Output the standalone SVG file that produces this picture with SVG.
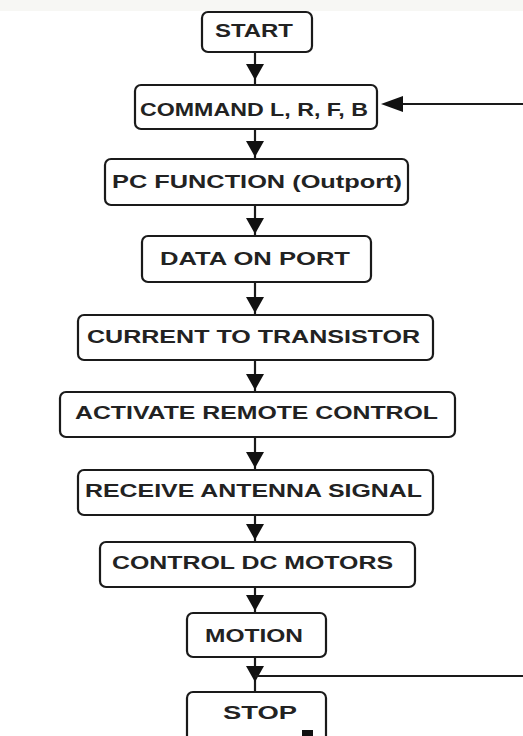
<svg xmlns="http://www.w3.org/2000/svg" width="523" height="736" viewBox="0 0 523 736">
<style>
.box{fill:#fff;stroke:#1a1a1a;stroke-width:2.2}
.lbl{font-family:"Liberation Sans",Arial,sans-serif;font-size:18px;font-weight:bold;fill:#222;text-anchor:start}
.ln{stroke:#1a1a1a;stroke-width:2.2;fill:none}
.ah{fill:#111}
</style>
<rect x="0" y="0" width="523" height="736" fill="#fff"/>
<rect x="0" y="0" width="523" height="11" fill="#f7f7f4"/>
<g id="connectors">
<line class="ln" x1="255" y1="52" x2="255" y2="85"/>
<polygon class="ah" points="246,64 264,64 255,80"/>
<line class="ln" x1="255" y1="129" x2="255" y2="159"/>
<polygon class="ah" points="246,141 264,141 255,157"/>
<line class="ln" x1="255" y1="205" x2="255" y2="236"/>
<polygon class="ah" points="246,218 264,218 255,234"/>
<line class="ln" x1="255" y1="282" x2="255" y2="315"/>
<polygon class="ah" points="246,297 264,297 255,313"/>
<line class="ln" x1="255" y1="360" x2="255" y2="392"/>
<polygon class="ah" points="246,374 264,374 255,390"/>
<line class="ln" x1="255" y1="437" x2="255" y2="470"/>
<polygon class="ah" points="246,452 264,452 255,468"/>
<line class="ln" x1="255" y1="515" x2="255" y2="542"/>
<polygon class="ah" points="246,524 264,524 255,540"/>
<line class="ln" x1="255" y1="587" x2="255" y2="613"/>
<polygon class="ah" points="246,595 264,595 255,611"/>
<line class="ln" x1="255" y1="657" x2="255" y2="692"/>
<polygon class="ah" points="246,666 264,666 255,682"/>
<line class="ln" x1="255" y1="676" x2="523" y2="676"/>
<line class="ln" x1="523" y1="104" x2="395" y2="104"/>
<polygon class="ah" points="403,96 403,112 381,104"/>
</g>
<g id="start"><rect class="box" x="202" y="12" width="110" height="40" rx="6"/><text class="lbl" x="215" y="37" textLength="78" lengthAdjust="spacingAndGlyphs">START</text></g>
<g id="command"><rect class="box" x="135" y="85" width="242" height="44" rx="6"/><text class="lbl" x="140" y="116" textLength="228" lengthAdjust="spacingAndGlyphs">COMMAND L, R, F, B</text></g>
<g id="pcfunction"><rect class="box" x="105" y="159" width="303" height="46" rx="6"/><text class="lbl" x="112" y="188" textLength="290" lengthAdjust="spacingAndGlyphs">PC FUNCTION (Outport)</text></g>
<g id="dataonport"><rect class="box" x="142" y="236" width="229" height="46" rx="6"/><text class="lbl" x="160" y="265" textLength="190" lengthAdjust="spacingAndGlyphs">DATA ON PORT</text></g>
<g id="current"><rect class="box" x="78" y="315" width="355" height="45" rx="6"/><text class="lbl" x="87" y="343" textLength="333" lengthAdjust="spacingAndGlyphs">CURRENT TO TRANSISTOR</text></g>
<g id="activate"><rect class="box" x="60" y="392" width="395" height="45" rx="6"/><text class="lbl" x="75" y="419" textLength="363" lengthAdjust="spacingAndGlyphs">ACTIVATE REMOTE CONTROL</text></g>
<g id="receive"><rect class="box" x="78" y="470" width="355" height="45" rx="6"/><text class="lbl" x="85" y="497" textLength="337" lengthAdjust="spacingAndGlyphs">RECEIVE ANTENNA SIGNAL</text></g>
<g id="controldc"><rect class="box" x="100" y="542" width="315" height="45" rx="6"/><text class="lbl" x="112" y="569" textLength="281" lengthAdjust="spacingAndGlyphs">CONTROL DC MOTORS</text></g>
<g id="motion"><rect class="box" x="187" y="613" width="139" height="44" rx="6"/><text class="lbl" x="205" y="642" textLength="98" lengthAdjust="spacingAndGlyphs">MOTION</text></g>
<g id="stop"><rect class="box" x="187" y="692" width="139" height="56" rx="6"/><text class="lbl" x="223" y="719" textLength="74" lengthAdjust="spacingAndGlyphs">STOP</text><rect x="302" y="730" width="11" height="6" fill="#111"/></g>
</svg>
